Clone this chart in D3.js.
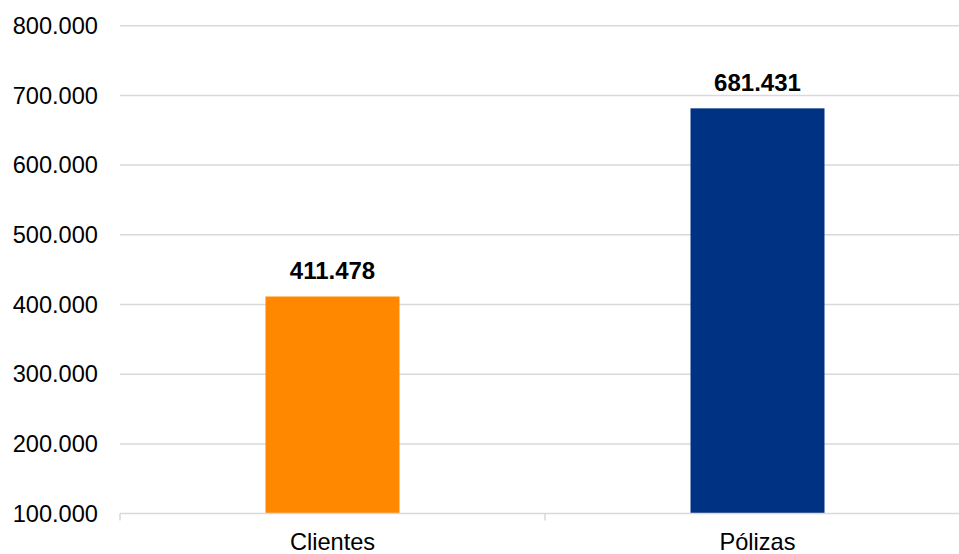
<!DOCTYPE html>
<html lang="es">
<head>
<meta charset="UTF-8">
<title>Clientes y Pólizas</title>
<style>
    body { margin: 0; background: #fff; font-family: "Liberation Sans", Arial, sans-serif; overflow: hidden; }
    svg { display: block; }
</style>
</head>
<body>
<svg id="chart"></svg>
<script src="https://d3js.org/d3.v7.min.js"></script>
<script>
    // data
    const categories = ['Clientes', 'Pólizas'];
    const values = [411478, 681431];
    const colors = ['#FF8800', '#003283'];
    const yTicks = [100000, 200000, 300000, 400000, 500000, 600000, 700000, 800000];

    const width = 959, height = 554;
    const fmt = v => d3.format(',')(v).replace(/,/g, '.');

    const svg = d3.select('#chart').attr('width', width).attr('height', height);

    const x = d3.scaleBand().domain(categories).range([120, 970]);
    const y = d3.scaleLinear().domain([100000, 800000]).range([513.6, 25.7]);
    const barW = 134;

    // gridlines
    svg.append('g').selectAll('line')
        .data(yTicks.slice(1))
        .enter().append('line')
        .attr('x1', 120).attr('x2', 970)
        .attr('y1', d => y(d)).attr('y2', d => y(d))
        .attr('stroke', '#d9d9d9').attr('stroke-width', 1.5);

    // y tick labels
    svg.append('g').selectAll('text')
        .data(yTicks)
        .enter().append('text')
        .attr('x', 98).attr('y', d => y(d))
        .attr('dy', '0.35em')
        .attr('text-anchor', 'end')
        .style('font-size', '23.6px')
        .attr('fill', '#000')
        .text(fmt);

    // bars
    svg.append('g').selectAll('rect')
        .data(categories)
        .enter().append('rect')
        .attr('x', d => x(d) + x.bandwidth() / 2 - barW / 2)
        .attr('width', barW)
        .attr('y', (d, i) => y(values[i]))
        .attr('height', (d, i) => y(100000) - y(values[i]))
        .attr('fill', (d, i) => colors[i]);

    // value labels
    svg.append('g').selectAll('text')
        .data(categories)
        .enter().append('text')
        .attr('x', d => x(d) + x.bandwidth() / 2)
        .attr('y', (d, i) => y(values[i]) - 17)
        .attr('text-anchor', 'middle')
        .style('font-size', '24px')
        .style('font-weight', 'bold')
        .text((d, i) => fmt(values[i]));

    // x axis line + ticks
    const base = y(100000);
    svg.append('line')
        .attr('x1', 120).attr('x2', 970)
        .attr('y1', base).attr('y2', base)
        .attr('stroke', '#d9d9d9').attr('stroke-width', 1.5);
    svg.append('g').selectAll('line')
        .data(categories)
        .enter().append('line')
        .attr('x1', d => x(d)).attr('x2', d => x(d))
        .attr('y1', base).attr('y2', base + 7)
        .attr('stroke', '#d9d9d9').attr('stroke-width', 1.5);

    // category labels
    svg.append('g').selectAll('text')
        .data(categories)
        .enter().append('text')
        .attr('x', d => x(d) + x.bandwidth() / 2)
        .attr('y', 550)
        .attr('text-anchor', 'middle')
        .style('font-size', '23.6px')
        .text(d => d);
</script>
</body>
</html>
